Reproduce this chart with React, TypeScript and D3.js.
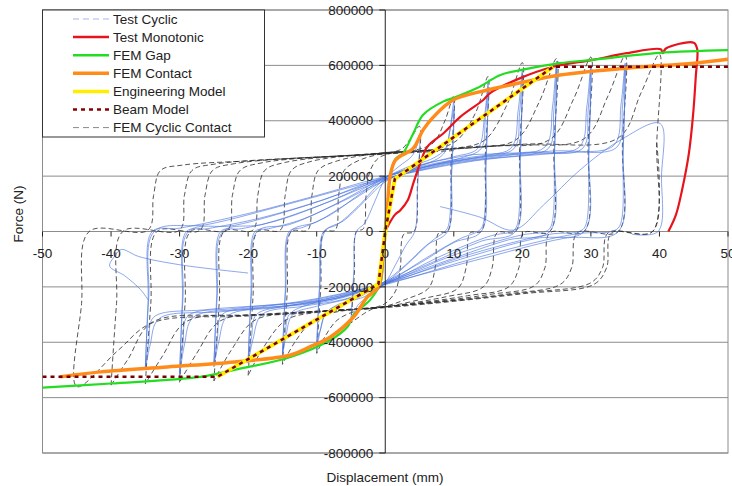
import React from "react";
import * as d3 from "d3";

type Pt = [number, number];

// axis ticks
const xTicks = [-50, -40, -30, -20, -10, 0, 10, 20, 30, 40, 50];
const yTicks = [-800000, -600000, -400000, -200000, 0, 200000, 400000, 600000, 800000];

// all curves: [displacement (mm), force (kN)]
const testMonotonic: Pt[] = [
  [0, 0], [0.55, 27], [1.4, 60], [2.2, 77], [3.3, 114], [4.1, 175], [5.1, 247], [6.1, 305],
  [8.5, 355], [10.9, 413], [14.3, 475], [15.3, 500], [19.7, 554], [24.5, 595], [30.3, 620],
  [35.2, 644], [40.2, 658], [40.5, 644], [40.9, 660], [45, 682], [45.5, 660], [45.3, 560],
  [44.9, 420], [44.3, 283], [43.3, 150], [42.4, 60], [41.3, 0],
];

const femGap: Pt[] = [
  [-50, -564], [-40, -549], [-27, -525], [-22, -500], [-13.8, -453], [-8, -392], [-5.5, -344],
  [-4.6, -300], [-2.2, -247], [-0.7, -186], [-0.3, -100], [0, 0], [0.3, 80], [0.7, 200],
  [1.5, 262], [2.6, 283], [4.1, 355], [5.5, 421], [8.5, 470], [9.9, 482], [13.4, 518],
  [16.8, 565], [19.7, 583], [25.5, 608], [30.3, 620], [40, 645], [50, 655],
];

const femContact: Pt[] = [
  [-47.4, -525], [-41.5, -507], [-31.8, -489], [-22, -471], [-13.8, -446], [-11, -417],
  [-8, -381], [-4.6, -308], [-2.6, -236], [-1, -200], [-0.4, -100], [0, 0], [0.3, 77],
  [0.7, 197], [1.5, 258], [4.1, 301], [5.5, 366], [7, 413], [9.9, 475], [14.9, 511],
  [19.7, 537], [25.5, 565], [35.2, 590], [45, 608], [50, 622],
];

const engineeringModel: Pt[] = [[-24.5, -525], [-1, -190], [0, 0], [1.4, 190], [24.5, 595]];

const beamModel: Pt[] = [
  [-50, -525], [-24.5, -525], [-1, -190], [0, 0], [1.4, 190], [24.5, 595], [50, 595],
];

// FEM cyclic contact loops, one per amplitude
const femCyclic: Pt[][] = [
  [[-5, -330], [-4.5, -150], [-4.2, 0], [-3.2, 10], [-2.8, 130], [-2.2, 220], [-1, 265], [1, 285],
   [2.5, 300], [3.8, 340], [5, 380], [4.7, 180], [4.2, 0], [2.7, -10], [2.2, -130], [1.5, -215],
   [0, -260], [-1.5, -275], [-3, -295], [-5, -330]],
  [[-10, -440], [-9.4, -200], [-8.9, 0], [-7.3, 5], [-6.8, 130], [-6, 220], [-4, 255], [0, 283],
   [4, 292], [7, 320], [8.7, 400], [10, 490], [9.6, 250], [9.1, 0], [7.8, -5], [7.3, -130],
   [6.3, -205], [3, -245], [0, -270], [-4, -285], [-7, -320], [-8.8, -380], [-10, -440]],
  [[-15, -480], [-14.3, -220], [-13.7, 0], [-11.3, 5], [-10.7, 130], [-9.8, 220], [-7, 255],
   [0, 285], [7, 295], [10.5, 330], [13.2, 430], [15, 560], [14.6, 280], [14, 0], [12.4, -5],
   [11.8, -130], [10.6, -205], [6, -240], [0, -272], [-7, -290], [-10.5, -320], [-13.2, -400],
   [-15, -480]],
  [[-20, -520], [-19.3, -240], [-18.6, 0], [-15.3, 5], [-14.6, 130], [-13.7, 220], [-11, 252],
   [0, 285], [10, 300], [14.5, 330], [17.8, 460], [20, 610], [19.6, 300], [19, 0], [16.3, -5],
   [15.6, -130], [14.3, -200], [9, -235], [0, -272], [-10, -292], [-14.5, -320], [-17.8, -420],
   [-20, -520]],
  [[-25, -540], [-24.2, -250], [-23.5, 0], [-19.3, 5], [-18.6, 130], [-17.6, 220], [-14.5, 250],
   [0, 284], [12, 305], [19, 330], [22.5, 470], [25, 625], [24.6, 310], [24, 0], [20.2, -5],
   [19.5, -130], [18, -200], [12, -232], [0, -272], [-12, -295], [-19, -320], [-22.5, -430],
   [-25, -540]],
  [[-30, -545], [-29.2, -260], [-28.4, 0], [-23, 5], [-22.3, 130], [-21.2, 220], [-18, 248],
   [0, 283], [15, 308], [24, 332], [27.5, 480], [30, 630], [29.6, 315], [29, 0], [24, -5],
   [23.3, -130], [21.8, -195], [15, -228], [0, -272], [-15, -298], [-24, -322], [-27.5, -440],
   [-30, -545]],
  [[-35, -550], [-34.2, -260], [-33.3, 0], [-27, 5], [-26.3, 130], [-25.2, 220], [-22, 245],
   [0, 282], [18, 312], [29, 335], [32.5, 490], [35, 635], [34.6, 320], [34, 0], [28, -5],
   [27.2, -130], [25.6, -190], [18, -225], [0, -272], [-18, -300], [-29, -325], [-32.5, -450],
   [-35, -550]],
  [[-40, -555], [-39.2, -260], [-38.3, 0], [-30, 5], [-29.3, 130], [-28.2, 220], [-25, 243],
   [0, 281], [20, 315], [34, 338], [37.3, 500], [40, 640], [39.6, 320], [39, 0], [32.5, -5],
   [31.7, -130], [30, -185], [20, -222], [0, -272], [-20, -302], [-34, -328], [-37.5, -460],
   [-40, -555]],
  [[39.6, 320], [39, 0], [33, -5], [32.3, -130], [30.5, -190], [20, -225], [0, -275],
   [-20, -305], [-34, -330], [-39, -430], [-45, -560], [-44.3, -260], [-43.2, 0], [-34.6, 5],
   [-33.8, 130], [-32.8, 220], [-29.5, 240], [-20, 255], [0, 280], [10, 292]],
];

// test cyclic loops (two cycles per amplitude for most steps)
const testCyclic: Pt[][] = [
  [[-5, -320], [-4.6, -150], [-4.2, 0], [-3, 30], [-1.5, 110], [0, 190], [2, 235], [3.8, 270],
   [4.5, 300], [5, 350], [4.7, 150], [4.3, 0], [3, -50], [1.5, -120], [0, -185], [-2, -230],
   [-3.8, -260], [-4.5, -290], [-5, -320]],
  [[-10, -428], [-9.6, -200], [-9, 0], [-7, 25], [-4, 90], [0, 192], [3, 230], [7, 265],
   [8.8, 300], [9.5, 380], [10, 470], [9.7, 230], [9.2, 20], [8.7, 0], [7, -30], [4, -100],
   [0, -188], [-3, -235], [-7, -265], [-8.8, -300], [-9.5, -360], [-10, -428]],
  [[-10, -400], [-9.5, -180], [-8.8, 0], [-6, 40], [-3, 110], [0, 180], [4, 225], [8.5, 280],
   [9.4, 360], [10, 440], [9.7, 220], [9.1, 0], [6, -50], [3, -120], [0, -180], [-4, -240],
   [-8.5, -290], [-9.4, -350], [-10, -400]],
  [[-15, -453], [-14.6, -220], [-14, 0], [-12, 15], [-8, 60], [-4, 130], [0, 195], [5, 240],
   [10, 270], [13.5, 300], [14.5, 420], [15, 540], [14.7, 260], [14.2, 20], [13.5, 0],
   [11, -25], [6, -95], [0, -188], [-5, -240], [-10, -270], [-13.5, -300], [-14.5, -380],
   [-15, -453]],
  [[-15, -440], [-14.5, -200], [-13.8, 0], [-10, 35], [-5, 110], [0, 185], [6, 235], [11, 265],
   [14, 300], [14.6, 410], [15, 520], [14.7, 250], [14, 0], [10, -40], [5, -115], [0, -180],
   [-6, -235], [-11, -262], [-14, -300], [-14.6, -370], [-15, -440]],
  [[-20, -476], [-19.6, -230], [-19, 0], [-17, 10], [-12, 45], [-6, 115], [0, 196], [6, 245],
   [12, 275], [18.3, 300], [19.4, 440], [20, 583], [19.7, 280], [19.2, 20], [18.5, 0],
   [15.5, -15], [8, -90], [0, -190], [-6, -245], [-12, -270], [-18, -300], [-19.3, -390],
   [-20, -476]],
  [[-20, -465], [-19.5, -220], [-18.7, 0], [-14, 25], [-7, 100], [0, 185], [7, 240], [14, 270],
   [18.8, 300], [19.6, 430], [20, 570], [19.7, 270], [19, 0], [14, -35], [7, -110], [0, -182],
   [-7, -240], [-14, -268], [-18.8, -300], [-19.5, -380], [-20, -465]],
  [[-25, -489], [-24.6, -240], [-24, 0], [-21, 10], [-15, 45], [-8, 110], [0, 197], [8, 250],
   [16, 280], [23.3, 305], [24.4, 450], [25, 615], [24.7, 300], [24.2, 20], [23.4, 0],
   [20, -12], [10, -85], [0, -188], [-8, -250], [-16, -275], [-23, -305], [-24.3, -400],
   [-25, -489]],
  [[-25, -480], [-24.5, -230], [-23.7, 0], [-18, 25], [-10, 90], [0, 188], [9, 245], [18, 275],
   [23.8, 300], [24.6, 440], [25, 600], [24.7, 290], [24, 0], [18, -30], [9, -105], [0, -184],
   [-9, -245], [-18, -272], [-23.8, -300], [-24.5, -390], [-25, -480]],
  [[-30, -525], [-29.6, -250], [-29, 0], [-26, 10], [-18, 50], [-9, 115], [0, 198], [10, 255],
   [20, 285], [28.3, 305], [29.4, 450], [30, 600], [29.7, 300], [29.2, 20], [28.3, 0],
   [24, -10], [12, -85], [0, -190], [-10, -255], [-20, -280], [-28, -310], [-29.3, -410],
   [-30, -525]],
  [[-30, -510], [-29.5, -240], [-28.7, 0], [-22, 22], [-12, 90], [0, 190], [11, 250], [22, 280],
   [28.8, 300], [29.6, 440], [30, 590], [29.7, 290], [29, 0], [22, -25], [11, -100], [0, -186],
   [-11, -250], [-22, -278], [-28.8, -305], [-29.5, -400], [-30, -510]],
  [[-35, -500], [-34.6, -250], [-34, 0], [-30, 12], [-20, 65], [-10, 130], [0, 199], [12, 260],
   [24, 290], [33.3, 310], [34.4, 460], [35, 608], [34.7, 300], [34.2, 20], [33, 0], [28, -8],
   [14, -90], [0, -192], [-12, -260], [-24, -290], [-33, -315], [-34.3, -410], [-35, -500]],
  [[-35, -490], [-34.5, -240], [-33.7, 0], [-26, 25], [-14, 100], [0, 192], [13, 255], [26, 285],
   [33.8, 305], [34.6, 450], [35, 600], [34.7, 290], [34, 0], [26, -25], [13, -105], [0, -188],
   [-13, -255], [-26, -282], [-33.8, -310], [-34.5, -400], [-35, -490]],
  [[8, 90], [13.8, 52], [18.7, 5], [23.1, 96], [28.4, 222], [34.3, 330], [40.1, 390],
   [40.3, 200], [39.8, 0], [36, -10]],
  [[-20, -150], [-30, -120], [-36, -90], [-38.5, -65], [-39.5, -90], [-40.2, -125], [-38, -160],
   [-35.7, -210], [-34.5, -250]],
];

const legendNames = [
  "Test Cyclic", "Test Monotonic", "FEM Gap", "FEM Contact",
  "Engineering Model", "Beam Model", "FEM Cyclic Contact",
];

const legendStyles = [
  { stroke: "#aab4f0", width: 1.2, dash: "6,4" },
  { stroke: "#e8141b", width: 2.5, dash: "" },
  { stroke: "#22dd22", width: 2.5, dash: "" },
  { stroke: "#ff8c1a", width: 3.5, dash: "" },
  { stroke: "#ffee00", width: 3.5, dash: "" },
  { stroke: "#8b0000", width: 2.5, dash: "4,4" },
  { stroke: "#888888", width: 1, dash: "6,4" },
];

const App = () => {
  const x = d3.scaleLinear().domain([-50, 50]).range([42.5, 728]);
  const y = d3.scaleLinear().domain([-800000, 800000]).range([453, 10]);
  const line = d3.line<Pt>().x(d => x(d[0])).y(d => y(d[1] * 1000));
  const smooth = d3.line<Pt>()
    .x(d => x(d[0]))
    .y(d => y(d[1] * 1000))
    .curve(d3.curveCatmullRom.alpha(0.5));

  const font = "'Liberation Sans', Arial, sans-serif";
  const x0 = x(0), y0 = y(0);

  return (
    <svg width={732} height={486} style={{ position: "absolute", left: 0, top: 0, background: "#fff" }}
      fontFamily={font}>
      <defs>
        <clipPath id="plot">
          <rect x={42.5} y={10} width={728 - 42.5} height={443} />
        </clipPath>
      </defs>

      {/* grid */}
      {yTicks.map(t => (
        <line key={"g" + t} x1={42.5} x2={728} y1={y(t)} y2={y(t)} stroke="#8c8c8c" strokeWidth={1} />
      ))}
      <rect x={42.5} y={10} width={728 - 42.5} height={443} fill="none" stroke="#8c8c8c" />

      <g clipPath="url(#plot)" fill="none">
        {femCyclic.map((d, i) => (
          <path key={"f" + i} d={smooth(d) || ""} stroke="#2a2a2a" strokeWidth={0.8}
            strokeDasharray="5,3" />
        ))}
        {testCyclic.map((d, i) => (
          <path key={"t" + i} d={smooth(d) || ""} stroke="#4a74e0" strokeWidth={0.75} opacity={0.85} />
        ))}
        <path d={smooth(testMonotonic) || ""} stroke="#e8141b" strokeWidth={2.2} />
        <path d={smooth(femGap) || ""} stroke="#22dd22" strokeWidth={2.2} />
        <path d={smooth(femContact) || ""} stroke="#ff8c1a" strokeWidth={3.5} />
        <path d={line(engineeringModel) || ""} stroke="#ffee00" strokeWidth={4} />
        <path d={line(beamModel) || ""} stroke="#7a0000" strokeWidth={2.5} strokeDasharray="4,4" />
      </g>

      {/* axes through the origin */}
      <line x1={x0} x2={x0} y1={10} y2={453} stroke="#222" strokeWidth={1} />
      {yTicks.map(t => (
        <line key={"yt" + t} x1={x0 - 6} x2={x0} y1={y(t)} y2={y(t)} stroke="#222" />
      ))}
      {xTicks.map(t => (
        <line key={"xt" + t} x1={x(t)} x2={x(t)} y1={y0} y2={y0 + 5} stroke="#222" />
      ))}
      {yTicks.map(t => (
        <text key={"yl" + t} x={x0 - 12} y={y(t)} dy="0.35em" textAnchor="end" fontSize={13.5}
          fill="#222">{t}</text>
      ))}
      {xTicks.map(t => (
        <text key={"xl" + t} x={x(t)} y={y0 + 22} dy="0.35em" textAnchor="middle" fontSize={13.5}
          fill="#222">{t}</text>
      ))}

      <text x={385} y={482} textAnchor="middle" fontSize={13.5} fill="#222">Displacement (mm)</text>
      <text transform="translate(23,214) rotate(-90)" textAnchor="middle" fontSize={13.5}
        fill="#222">Force (N)</text>

      {/* legend */}
      <g>
        <rect x={42.5} y={10} width={222} height={127} fill="#fff" stroke="#333" />
        {legendNames.map((n, i) => {
          const s = legendStyles[i];
          const ly = 19 + i * 18.1;
          return (
            <g key={n}>
              <line x1={73} x2={109} y1={ly} y2={ly} stroke={s.stroke} strokeWidth={s.width}
                strokeDasharray={s.dash || undefined} />
              <text x={113} y={ly} dy="0.36em" fontSize={13.5} fill="#222">{n}</text>
            </g>
          );
        })}
      </g>
    </svg>
  );
};

export default App;
